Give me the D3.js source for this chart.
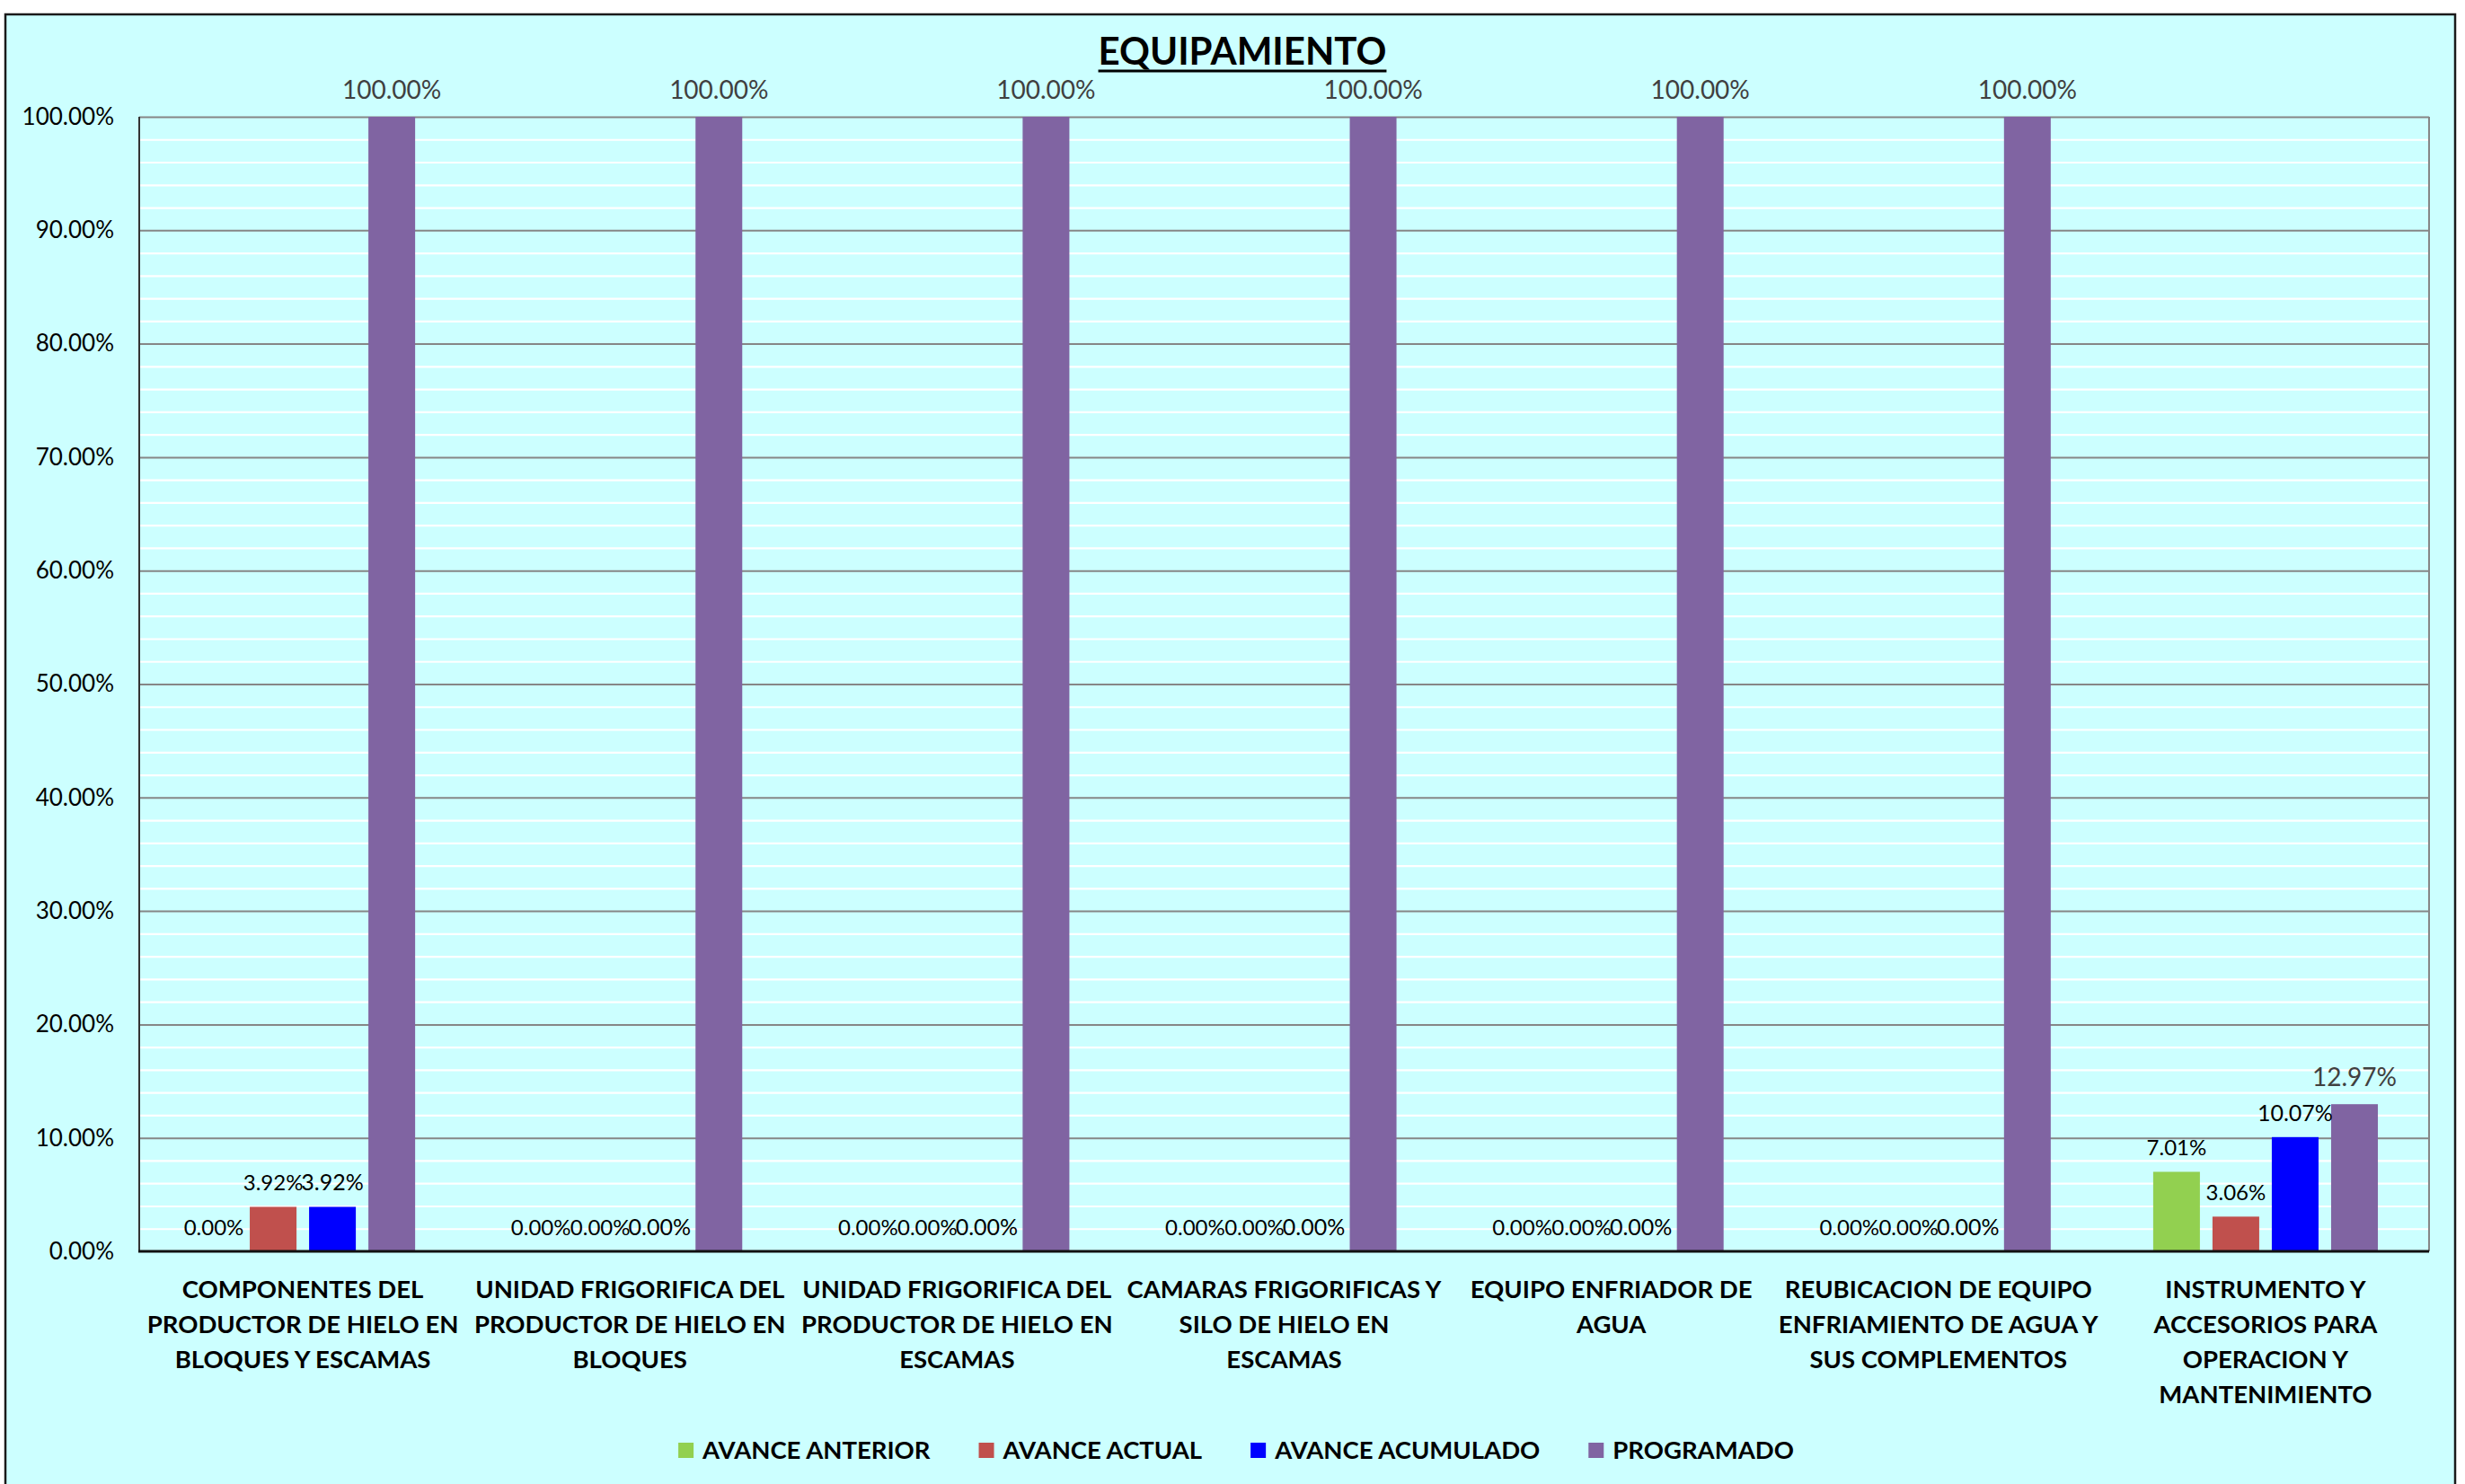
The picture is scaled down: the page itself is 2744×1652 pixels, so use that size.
<!DOCTYPE html>
<html>
<head>
<meta charset="utf-8">
<script src="https://cdn.jsdelivr.net/npm/d3@7"></script>
<style>
  html, body { margin: 0; padding: 0; background: #ffffff; }
  svg { display: block; }
  text { font-family: Lato, "Open Sans", sans-serif; }
</style>
</head>
<body>
<svg id="chart" width="2744" height="1652"></svg>
<script>
// ---------------- DATA ----------------
const categories = [
  ["COMPONENTES DEL", "PRODUCTOR DE HIELO EN", "BLOQUES Y ESCAMAS"],
  ["UNIDAD FRIGORIFICA DEL", "PRODUCTOR DE HIELO EN", "BLOQUES"],
  ["UNIDAD FRIGORIFICA DEL", "PRODUCTOR DE HIELO EN", "ESCAMAS"],
  ["CAMARAS FRIGORIFICAS Y", "SILO DE HIELO EN", "ESCAMAS"],
  ["EQUIPO ENFRIADOR DE", "AGUA"],
  ["REUBICACION DE EQUIPO", "ENFRIAMIENTO DE AGUA Y", "SUS COMPLEMENTOS"],
  ["INSTRUMENTO Y", "ACCESORIOS PARA", "OPERACION Y", "MANTENIMIENTO"]
];
const seriesNames = ["AVANCE ANTERIOR", "AVANCE ACTUAL", "AVANCE ACUMULADO", "PROGRAMADO"];
const avanceAnterior  = [0.00, 0.00, 0.00, 0.00, 0.00, 0.00, 7.01];
const avanceActual    = [3.92, 0.00, 0.00, 0.00, 0.00, 0.00, 3.06];
const avanceAcumulado = [3.92, 0.00, 0.00, 0.00, 0.00, 0.00, 10.07];
const programado      = [100.00, 100.00, 100.00, 100.00, 100.00, 100.00, 12.97];
const yTicks = [0, 10, 20, 30, 40, 50, 60, 70, 80, 90, 100];
const yMinorTicks = [2,4,6,8,12,14,16,18,22,24,26,28,32,34,36,38,42,44,46,48,52,54,56,58,62,64,66,68,72,74,76,78,82,84,86,88,92,94,96,98];
const title = "EQUIPAMIENTO";

// ---------------- STYLE ----------------
const colors = ["#92D050", "#C0504D", "#0000FF", "#8064A2"];
const seriesValues = [avanceAnterior, avanceActual, avanceAcumulado, programado];

const svg = d3.select("#chart");
const plot = { left: 155, right: 2704, top: 130, bottom: 1393 };

// chart area background
svg.append("rect").attr("x", 6).attr("y", 16).attr("width", 2733 - 6).attr("height", 1700)
  .attr("fill", "#CCFFFF").attr("stroke", "#1a1a1a").attr("stroke-width", 2.5);

const y = d3.scaleLinear().domain([0, 100]).range([plot.bottom, plot.top]);
const x0 = d3.scaleBand().domain(d3.range(categories.length)).range([plot.left, plot.right]);
const x1 = d3.scaleBand().domain(d3.range(seriesNames.length)).range([0, x0.bandwidth()])
  .paddingInner(14 / 66).paddingOuter(57 / 66);

const pw = plot.right - plot.left;

// minor gridlines (white)
svg.append("g").attr("transform", `translate(${plot.left},0)`)
  .call(d3.axisLeft(y).tickValues(yMinorTicks).tickSize(-pw).tickFormat(""))
  .call(g => g.select(".domain").remove())
  .call(g => g.selectAll("line").attr("stroke", "#ffffff").attr("stroke-width", 2.2));

// major gridlines (gray)
svg.append("g").attr("transform", `translate(${plot.left},0)`)
  .call(d3.axisLeft(y).tickValues(yTicks.filter(d => d > 0)).tickSize(-pw).tickFormat(""))
  .call(g => g.select(".domain").remove())
  .call(g => g.selectAll("line").attr("stroke", "#868686").attr("stroke-width", 2));

// right border of plot
svg.append("line").attr("x1", plot.right).attr("x2", plot.right)
  .attr("y1", plot.top).attr("y2", plot.bottom).attr("stroke", "#868686").attr("stroke-width", 2);

// y axis labels
const yAxis = svg.append("g").attr("transform", `translate(${plot.left},0)`)
  .call(d3.axisLeft(y).tickValues(yTicks).tickSize(0).tickPadding(28)
    .tickFormat(d => d.toFixed(2) + "%"));
yAxis.select(".domain").remove();
yAxis.selectAll("text").attr("font-family", "Lato, sans-serif").attr("font-size", 26).attr("fill", "#000");

// bars
const groups = svg.append("g").selectAll("g").data(categories).join("g")
  .attr("transform", (d, i) => `translate(${x0(i)},0)`);

groups.each(function (cat, ci) {
  const g = d3.select(this);
  seriesValues.forEach((vals, si) => {
    const v = vals[ci];
    if (v > 0) {
      g.append("rect")
        .attr("x", x1(si)).attr("width", x1.bandwidth())
        .attr("y", y(v)).attr("height", y(0) - y(v))
        .attr("fill", colors[si]);
    }
  });
});

// axis lines
svg.append("line").attr("x1", plot.left).attr("x2", plot.left)
  .attr("y1", plot.top).attr("y2", plot.bottom).attr("stroke", "#333").attr("stroke-width", 2);
svg.append("line").attr("x1", plot.left - 1).attr("x2", plot.right)
  .attr("y1", plot.bottom).attr("y2", plot.bottom).attr("stroke", "#111").attr("stroke-width", 3);

// data labels
groups.each(function (cat, ci) {
  const g = d3.select(this);
  seriesValues.forEach((vals, si) => {
    const v = vals[ci];
    const isProg = si === 3;
    g.append("text")
      .attr("x", x1(si) + x1.bandwidth() / 2)
      .attr("y", y(v) - (isProg ? 20 : 18))
      .attr("text-anchor", "middle")
      .attr("font-size", isProg ? 28 : (si === 2 ? 25 : 24))
      .attr("fill", isProg ? "#404040" : "#000")
      .text(v.toFixed(2) + "%");
  });
});

// category labels
groups.each(function (cat, ci) {
  const t = d3.select(this).append("text")
    .attr("text-anchor", "middle")
    .attr("font-size", 27.5).attr("font-weight", "bold").attr("fill", "#000");
  cat.forEach((line, li) => {
    t.append("tspan").attr("x", x0.bandwidth() / 2).attr("y", 1445 + li * 39).text(line);
  });
});

// title
const tt = svg.append("text").attr("x", 1383).attr("y", 72).attr("text-anchor", "middle")
  .attr("font-size", 42).attr("font-weight", "bold").attr("fill", "#000").text(title);
const tw = tt.node().getComputedTextLength();
svg.append("rect").attr("x", 1383 - tw / 2).attr("y", 77.5).attr("width", tw).attr("height", 3).attr("fill", "#000");

// legend
const legend = svg.append("g");
const items = legend.selectAll("g").data(seriesNames).join("g");
items.append("rect").attr("width", 17).attr("height", 17).attr("y", 1606)
  .attr("fill", (d, i) => colors[i]);
items.append("text").attr("x", 27).attr("y", 1624)
  .attr("font-size", 27.5).attr("font-weight", "bold").attr("fill", "#000").text(d => d);
let widths = [];
items.each(function () { widths.push(27 + d3.select(this).select("text").node().getComputedTextLength()); });
const gap = 54;
const total = d3.sum(widths) + gap * (widths.length - 1);
let cx = 1376 - total / 2;
items.attr("transform", (d, i) => { const tx = cx; cx += widths[i] + gap; return `translate(${tx},0)`; });
</script>
</body>
</html>
